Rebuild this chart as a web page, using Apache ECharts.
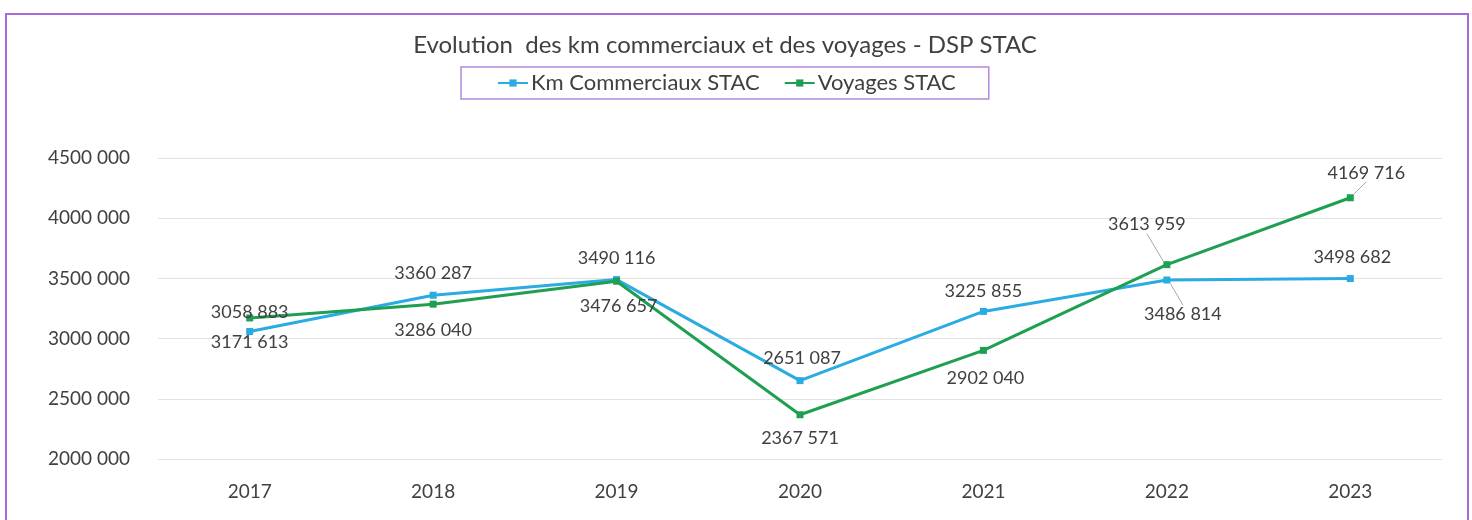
<!DOCTYPE html>
<html>
<head>
<meta charset="utf-8">
<script src="https://cdn.jsdelivr.net/npm/echarts@6/dist/echarts.min.js"></script>
<style>
  html, body {margin: 0; padding: 0; background: #fff;}
  #chart {width: 1472px; height: 520px;}
</style>
</head>
<body>
<div id="chart"></div>
<script>
  const years = ['2017', '2018', '2019', '2020', '2021', '2022', '2023'];
  const kmCommerciaux = [3058883, 3360287, 3490116, 2651087, 3225855, 3486814, 3498682];
  const voyages = [3171613, 3286040, 3476657, 2367571, 2902040, 3613959, 4169716];

  // label placement per point: [dx, dy, leader line]
  const kmLabelPos = [[0, -19, 0], [0, -22, 0], [0, -21, 0], [2, -22, 0], [0, -20, 0], [16, 34, 1], [2, -21, 0]];
  const voyLabelPos = [[0, 24, 0], [0, 26, 0], [2, 25, 0], [0, 23, 0], [2, 28, 0], [-20, -40, 1], [16, -25, 1]];

  const fmt = v => {
    const s = String(v);
    return s.slice(0, s.length - 3) + ' ' + s.slice(-3);
  };

  const textColor = '#404040';
  const font = 'Lato';

  const buildSeries = (name, values, pos, color) => ({
    name: name,
    type: 'line',
    data: values.map((v, i) => ({
      value: v,
      labelLine: {show: !!pos[i][2]}
    })),
    symbol: 'rect',
    symbolSize: 7,
    lineStyle: {color: color, width: 3},
    itemStyle: {color: color},
    label: {
      show: true,
      position: 'inside',
      formatter: p => fmt(p.value),
      color: textColor,
      fontFamily: font,
      fontSize: 18
    },
    labelLine: {lineStyle: {color: '#a6a6a6', width: 1}},
    labelLayout: p => ({dx: pos[p.dataIndex][0], dy: pos[p.dataIndex][1]}),
    z: 2
  });

  const chart = echarts.init(document.getElementById('chart'));
  chart.setOption({
    animation: false,
    title: {
      text: 'Evolution  des km commerciaux et des voyages - DSP STAC',
      left: 720,
      textAlign: 'center',
      top: 28,
      textStyle: {color: textColor, fontFamily: font, fontSize: 24, fontWeight: 'normal'}
    },
    legend: {
      top: 67,
      left: 461,
      padding: [5, 33, 5, 36],
      borderColor: '#b48bd8',
      borderWidth: 1.5,
      itemWidth: 30,
      itemHeight: 9,
      itemGap: 24,
      textStyle: {color: textColor, fontFamily: font, fontSize: 22, padding: [0, 0, 0, -2]}
    },
    grid: {left: 158, right: 30, top: 158, bottom: 61},
    xAxis: {
      type: 'category',
      data: years,
      axisLine: {show: false},
      axisTick: {show: false},
      axisLabel: {color: textColor, fontFamily: font, fontSize: 19, margin: 23}
    },
    yAxis: {
      type: 'value',
      min: 2000000,
      max: 4500000,
      interval: 500000,
      axisLine: {show: false},
      axisTick: {show: false},
      splitLine: {lineStyle: {color: '#e3e3e3', width: 1}},
      axisLabel: {color: textColor, fontFamily: font, fontSize: 19, margin: 28, formatter: v => fmt(v)}
    },
    graphic: [{
      type: 'rect',
      shape: {x: 6, y: 14, width: 1462, height: 540},
      style: {fill: 'none', stroke: '#a86ad8', lineWidth: 2},
      silent: true
    }],
    series: [
      buildSeries('Km Commerciaux STAC', kmCommerciaux, kmLabelPos, '#2aabe2'),
      buildSeries('Voyages STAC', voyages, voyLabelPos, '#1f9f52')
    ]
  });
</script>
</body>
</html>
